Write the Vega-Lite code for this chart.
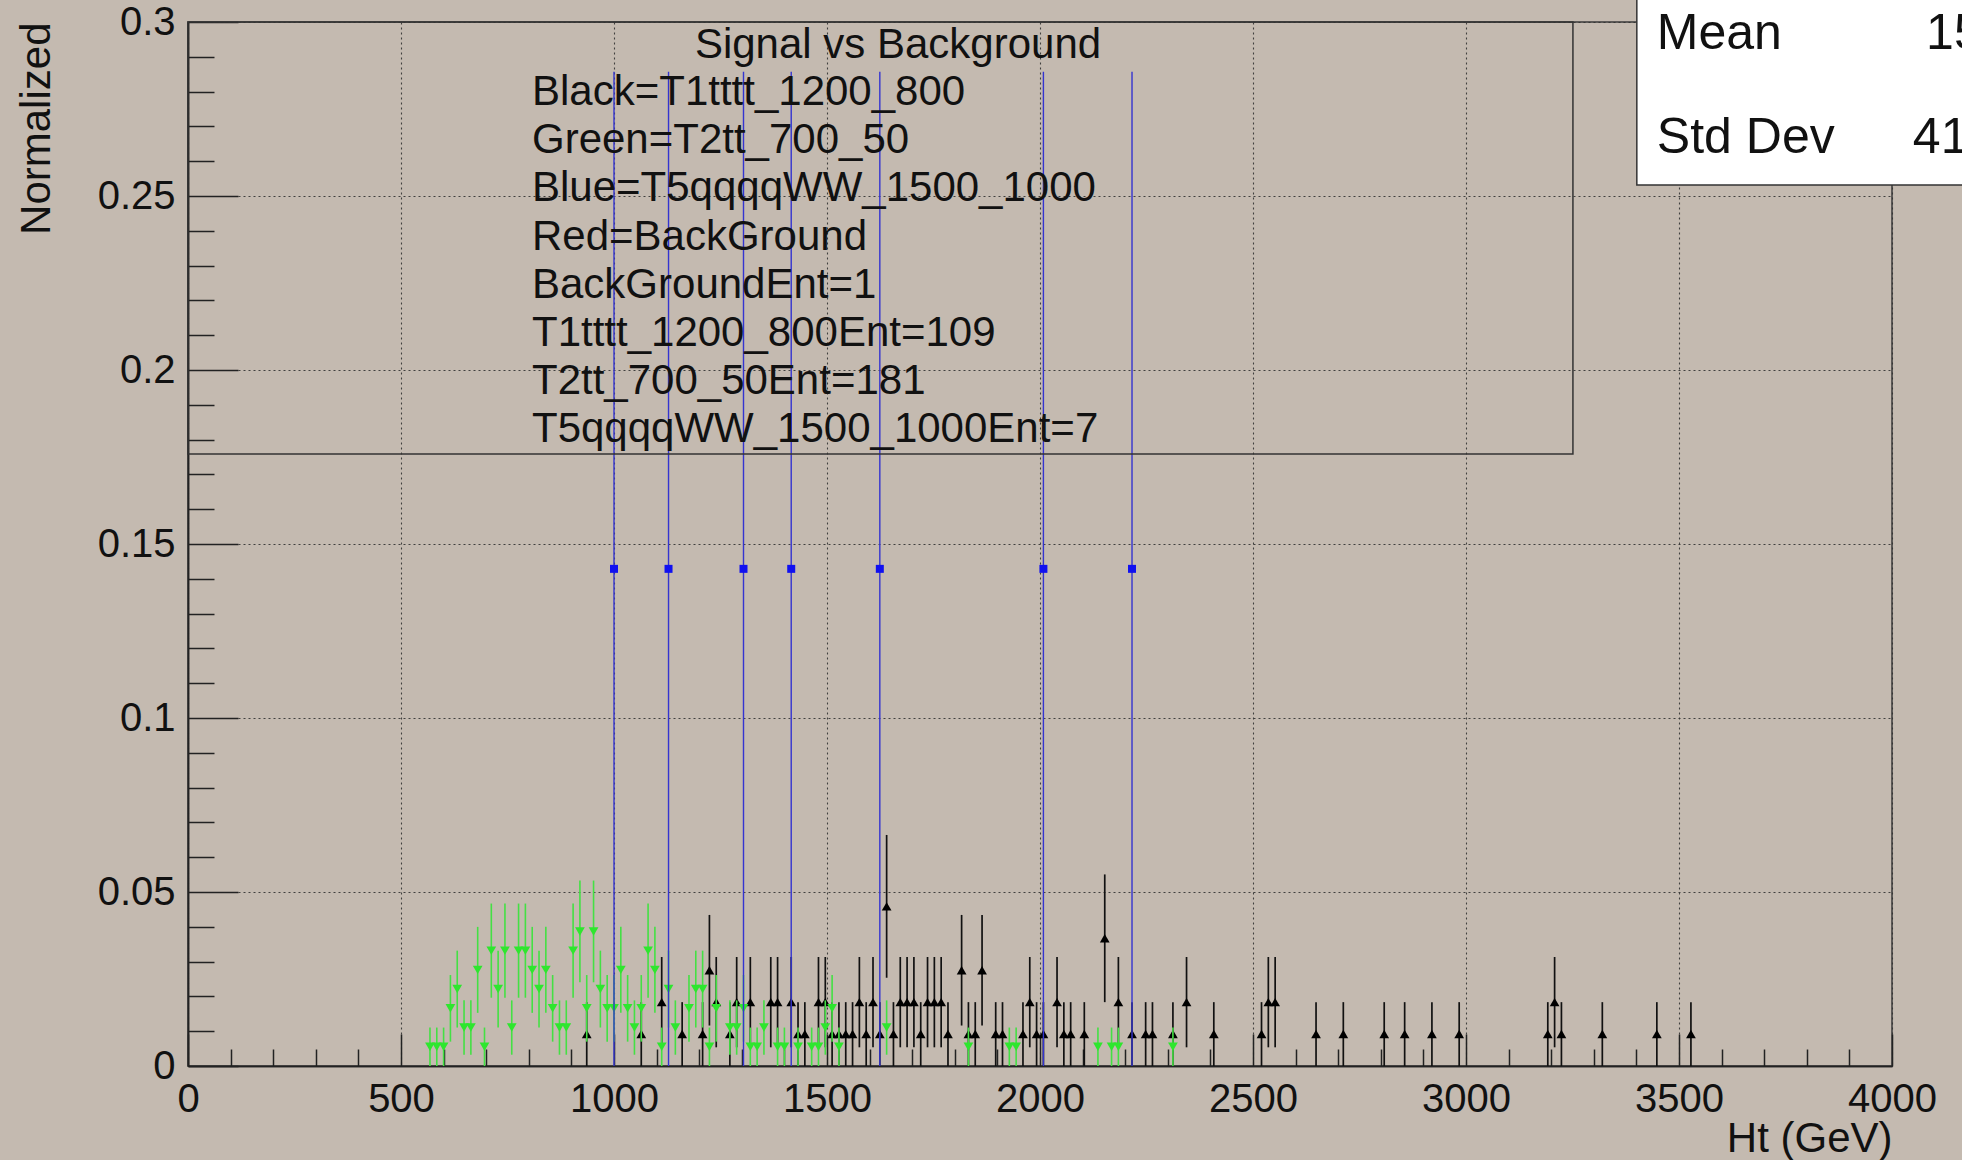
{
  "$schema": "https://vega.github.io/schema/vega-lite/v6.json",
  "width": 1704,
  "height": 1044,
  "autosize": {"type": "none"},
  "padding": {"left": 188, "top": 22, "right": 70, "bottom": 94},
  "background": "#c4bab0",
  "config": {
    "view": {"stroke": "#3a3a3a", "strokeWidth": 1.5},
    "font": "Liberation Sans",
    "text": {"font": "Liberation Sans", "color": "#111111"}
  },
  "resolve": {"axis": {"x": "independent", "y": "independent"}},
  "datasets": {
    "black": [
      {"ht":936,"y":0.00917,"lo":0,"hi":0.01835},
      {"ht":1064,"y":0.00917,"lo":0,"hi":0.01835},
      {"ht":1112,"y":0.01835,"lo":0.00537,"hi":0.03132},
      {"ht":1160,"y":0.00917,"lo":0,"hi":0.01835},
      {"ht":1208,"y":0.00917,"lo":0,"hi":0.01835},
      {"ht":1224,"y":0.02752,"lo":0.01163,"hi":0.04341},
      {"ht":1240,"y":0.01835,"lo":0.00537,"hi":0.03132},
      {"ht":1272,"y":0.00917,"lo":0,"hi":0.01835},
      {"ht":1288,"y":0.01835,"lo":0.00537,"hi":0.03132},
      {"ht":1320,"y":0.01835,"lo":0.00537,"hi":0.03132},
      {"ht":1368,"y":0.01835,"lo":0.00537,"hi":0.03132},
      {"ht":1384,"y":0.01835,"lo":0.00537,"hi":0.03132},
      {"ht":1416,"y":0.01835,"lo":0.00537,"hi":0.03132},
      {"ht":1432,"y":0.00917,"lo":0,"hi":0.01835},
      {"ht":1448,"y":0.00917,"lo":0,"hi":0.01835},
      {"ht":1480,"y":0.01835,"lo":0.00537,"hi":0.03132},
      {"ht":1496,"y":0.01835,"lo":0.00537,"hi":0.03132},
      {"ht":1512,"y":0.00917,"lo":0,"hi":0.01835},
      {"ht":1528,"y":0.00917,"lo":0,"hi":0.01835},
      {"ht":1544,"y":0.00917,"lo":0,"hi":0.01835},
      {"ht":1560,"y":0.00917,"lo":0,"hi":0.01835},
      {"ht":1576,"y":0.01835,"lo":0.00537,"hi":0.03132},
      {"ht":1592,"y":0.00917,"lo":0,"hi":0.01835},
      {"ht":1608,"y":0.01835,"lo":0.00537,"hi":0.03132},
      {"ht":1624,"y":0.00917,"lo":0,"hi":0.01835},
      {"ht":1640,"y":0.04587,"lo":0.02536,"hi":0.06639},
      {"ht":1656,"y":0.00917,"lo":0,"hi":0.01835},
      {"ht":1672,"y":0.01835,"lo":0.00537,"hi":0.03132},
      {"ht":1688,"y":0.01835,"lo":0.00537,"hi":0.03132},
      {"ht":1704,"y":0.01835,"lo":0.00537,"hi":0.03132},
      {"ht":1720,"y":0.00917,"lo":0,"hi":0.01835},
      {"ht":1736,"y":0.01835,"lo":0.00537,"hi":0.03132},
      {"ht":1752,"y":0.01835,"lo":0.00537,"hi":0.03132},
      {"ht":1768,"y":0.01835,"lo":0.00537,"hi":0.03132},
      {"ht":1784,"y":0.00917,"lo":0,"hi":0.01835},
      {"ht":1816,"y":0.02752,"lo":0.01163,"hi":0.04341},
      {"ht":1832,"y":0.00917,"lo":0,"hi":0.01835},
      {"ht":1848,"y":0.00917,"lo":0,"hi":0.01835},
      {"ht":1864,"y":0.02752,"lo":0.01163,"hi":0.04341},
      {"ht":1896,"y":0.00917,"lo":0,"hi":0.01835},
      {"ht":1912,"y":0.00917,"lo":0,"hi":0.01835},
      {"ht":1960,"y":0.00917,"lo":0,"hi":0.01835},
      {"ht":1976,"y":0.01835,"lo":0.00537,"hi":0.03132},
      {"ht":1992,"y":0.00917,"lo":0,"hi":0.01835},
      {"ht":2008,"y":0.00917,"lo":0,"hi":0.01835},
      {"ht":2040,"y":0.01835,"lo":0.00537,"hi":0.03132},
      {"ht":2056,"y":0.00917,"lo":0,"hi":0.01835},
      {"ht":2072,"y":0.00917,"lo":0,"hi":0.01835},
      {"ht":2104,"y":0.00917,"lo":0,"hi":0.01835},
      {"ht":2152,"y":0.0367,"lo":0.01835,"hi":0.05505},
      {"ht":2184,"y":0.01835,"lo":0.00537,"hi":0.03132},
      {"ht":2216,"y":0.00917,"lo":0,"hi":0.01835},
      {"ht":2248,"y":0.00917,"lo":0,"hi":0.01835},
      {"ht":2264,"y":0.00917,"lo":0,"hi":0.01835},
      {"ht":2312,"y":0.00917,"lo":0,"hi":0.01835},
      {"ht":2344,"y":0.01835,"lo":0.00537,"hi":0.03132},
      {"ht":2408,"y":0.00917,"lo":0,"hi":0.01835},
      {"ht":2520,"y":0.00917,"lo":0,"hi":0.01835},
      {"ht":2536,"y":0.01835,"lo":0.00537,"hi":0.03132},
      {"ht":2552,"y":0.01835,"lo":0.00537,"hi":0.03132},
      {"ht":2648,"y":0.00917,"lo":0,"hi":0.01835},
      {"ht":2712,"y":0.00917,"lo":0,"hi":0.01835},
      {"ht":2808,"y":0.00917,"lo":0,"hi":0.01835},
      {"ht":2856,"y":0.00917,"lo":0,"hi":0.01835},
      {"ht":2920,"y":0.00917,"lo":0,"hi":0.01835},
      {"ht":2984,"y":0.00917,"lo":0,"hi":0.01835},
      {"ht":3192,"y":0.00917,"lo":0,"hi":0.01835},
      {"ht":3208,"y":0.01835,"lo":0.00537,"hi":0.03132},
      {"ht":3224,"y":0.00917,"lo":0,"hi":0.01835},
      {"ht":3320,"y":0.00917,"lo":0,"hi":0.01835},
      {"ht":3448,"y":0.00917,"lo":0,"hi":0.01835},
      {"ht":3528,"y":0.00917,"lo":0,"hi":0.01835}
    ],
    "green": [
      {"ht":568,"y":0.00552,"lo":0,"hi":0.01105},
      {"ht":584,"y":0.00552,"lo":0,"hi":0.01105},
      {"ht":600,"y":0.00552,"lo":0,"hi":0.01105},
      {"ht":616,"y":0.01657,"lo":0.007,"hi":0.02614},
      {"ht":632,"y":0.0221,"lo":0.01105,"hi":0.03315},
      {"ht":648,"y":0.01105,"lo":0.00324,"hi":0.01886},
      {"ht":664,"y":0.01105,"lo":0.00324,"hi":0.01886},
      {"ht":680,"y":0.02762,"lo":0.01527,"hi":0.03998},
      {"ht":696,"y":0.00552,"lo":0,"hi":0.01105},
      {"ht":712,"y":0.03315,"lo":0.01962,"hi":0.04668},
      {"ht":728,"y":0.0221,"lo":0.01105,"hi":0.03315},
      {"ht":744,"y":0.03315,"lo":0.01962,"hi":0.04668},
      {"ht":760,"y":0.01105,"lo":0.00324,"hi":0.01886},
      {"ht":776,"y":0.03315,"lo":0.01962,"hi":0.04668},
      {"ht":792,"y":0.03315,"lo":0.01962,"hi":0.04668},
      {"ht":808,"y":0.02762,"lo":0.01527,"hi":0.03998},
      {"ht":824,"y":0.0221,"lo":0.01105,"hi":0.03315},
      {"ht":840,"y":0.02762,"lo":0.01527,"hi":0.03998},
      {"ht":856,"y":0.01657,"lo":0.007,"hi":0.02614},
      {"ht":872,"y":0.01105,"lo":0.00324,"hi":0.01886},
      {"ht":888,"y":0.01105,"lo":0.00324,"hi":0.01886},
      {"ht":904,"y":0.03315,"lo":0.01962,"hi":0.04668},
      {"ht":920,"y":0.03867,"lo":0.02406,"hi":0.05329},
      {"ht":936,"y":0.01657,"lo":0.007,"hi":0.02614},
      {"ht":952,"y":0.03867,"lo":0.02406,"hi":0.05329},
      {"ht":968,"y":0.0221,"lo":0.01105,"hi":0.03315},
      {"ht":984,"y":0.01657,"lo":0.007,"hi":0.02614},
      {"ht":1000,"y":0.01657,"lo":0.007,"hi":0.02614},
      {"ht":1016,"y":0.02762,"lo":0.01527,"hi":0.03998},
      {"ht":1032,"y":0.01657,"lo":0.007,"hi":0.02614},
      {"ht":1048,"y":0.01105,"lo":0.00324,"hi":0.01886},
      {"ht":1064,"y":0.01657,"lo":0.007,"hi":0.02614},
      {"ht":1080,"y":0.03315,"lo":0.01962,"hi":0.04668},
      {"ht":1096,"y":0.02762,"lo":0.01527,"hi":0.03998},
      {"ht":1112,"y":0.00552,"lo":0,"hi":0.01105},
      {"ht":1128,"y":0.0221,"lo":0.01105,"hi":0.03315},
      {"ht":1144,"y":0.01105,"lo":0.00324,"hi":0.01886},
      {"ht":1176,"y":0.01657,"lo":0.007,"hi":0.02614},
      {"ht":1192,"y":0.0221,"lo":0.01105,"hi":0.03315},
      {"ht":1208,"y":0.0221,"lo":0.01105,"hi":0.03315},
      {"ht":1224,"y":0.00552,"lo":0,"hi":0.01105},
      {"ht":1240,"y":0.01657,"lo":0.007,"hi":0.02614},
      {"ht":1272,"y":0.01105,"lo":0.00324,"hi":0.01886},
      {"ht":1288,"y":0.01105,"lo":0.00324,"hi":0.01886},
      {"ht":1304,"y":0.01657,"lo":0.007,"hi":0.02614},
      {"ht":1320,"y":0.00552,"lo":0,"hi":0.01105},
      {"ht":1336,"y":0.00552,"lo":0,"hi":0.01105},
      {"ht":1352,"y":0.01105,"lo":0.00324,"hi":0.01886},
      {"ht":1384,"y":0.00552,"lo":0,"hi":0.01105},
      {"ht":1400,"y":0.00552,"lo":0,"hi":0.01105},
      {"ht":1432,"y":0.00552,"lo":0,"hi":0.01105},
      {"ht":1464,"y":0.00552,"lo":0,"hi":0.01105},
      {"ht":1480,"y":0.00552,"lo":0,"hi":0.01105},
      {"ht":1496,"y":0.01105,"lo":0.00324,"hi":0.01886},
      {"ht":1512,"y":0.01657,"lo":0.007,"hi":0.02614},
      {"ht":1528,"y":0.00552,"lo":0,"hi":0.01105},
      {"ht":1640,"y":0.01105,"lo":0.00324,"hi":0.01886},
      {"ht":1832,"y":0.00552,"lo":0,"hi":0.01105},
      {"ht":1928,"y":0.00552,"lo":0,"hi":0.01105},
      {"ht":1944,"y":0.00552,"lo":0,"hi":0.01105},
      {"ht":2136,"y":0.00552,"lo":0,"hi":0.01105},
      {"ht":2168,"y":0.00552,"lo":0,"hi":0.01105},
      {"ht":2184,"y":0.00552,"lo":0,"hi":0.01105},
      {"ht":2312,"y":0.00552,"lo":0,"hi":0.01105}
    ],
    "blue": [
      {"ht":1000,"y":0.14286,"lo":0,"hi":0.28571},
      {"ht":1128,"y":0.14286,"lo":0,"hi":0.28571},
      {"ht":1304,"y":0.14286,"lo":0,"hi":0.28571},
      {"ht":1416,"y":0.14286,"lo":0,"hi":0.28571},
      {"ht":1624,"y":0.14286,"lo":0,"hi":0.28571},
      {"ht":2008,"y":0.14286,"lo":0,"hi":0.28571},
      {"ht":2216,"y":0.14286,"lo":0,"hi":0.28571}
    ]
  },
  "layer": [
    {
      "data": {"name": "black"},
      "mark": {"type": "rule", "color": "#111111", "strokeWidth": 1.7},
      "encoding": {
        "x": {
          "field": "ht", "type": "quantitative",
          "scale": {"domain": [0, 4000], "nice": false, "zero": false},
          "axis": {
            "orient": "bottom",
            "values": [100,200,300,400,600,700,800,900,1100,1200,1300,1400,1600,1700,1800,1900,2100,2200,2300,2400,2600,2700,2800,2900,3100,3200,3300,3400,3600,3700,3800,3900],
            "title": null, "labels": false, "grid": false,
            "tickSize": -17, "tickColor": "#222222", "tickWidth": 1.5,
            "domainColor": "#222222", "domainWidth": 1.5
          }
        },
        "y": {
          "field": "lo", "type": "quantitative",
          "scale": {"domain": [0, 0.3], "nice": false, "zero": false},
          "axis": {
            "orient": "left",
            "values": [0.01,0.02,0.03,0.04,0.06,0.07,0.08,0.09,0.11,0.12,0.13,0.14,0.16,0.17,0.18,0.19,0.21,0.22,0.23,0.24,0.26,0.27,0.28,0.29],
            "title": null, "labels": false, "grid": false,
            "tickSize": -26, "tickColor": "#222222", "tickWidth": 1.5,
            "domainColor": "#222222", "domainWidth": 1.5
          }
        },
        "y2": {"field": "hi"}
      }
    },
    {
      "data": {"name": "black"},
      "mark": {"type": "point", "shape": "triangle-up", "filled": true, "size": 95, "color": "#000000", "opacity": 1},
      "encoding": {
        "x": {
          "field": "ht", "type": "quantitative",
          "scale": {"domain": [0, 4000], "nice": false, "zero": false},
          "axis": {
            "orient": "bottom",
            "values": [0,500,1000,1500,2000,2500,3000,3500,4000],
            "format": "d",
            "title": "Ht (GeV)",
            "titleFont": "Liberation Sans", "titleFontSize": 42, "titleFontWeight": "normal", "titleColor": "#111111",
            "titleAnchor": "end", "titleAlign": "right", "titleBaseline": "alphabetic", "titleX": 1704, "titleY": 85,
            "labelFont": "Liberation Sans", "labelFontSize": 40, "labelColor": "#111111", "labelPadding": 45,
            "labelBaseline": "top", "labelFlush": false, "labelOverlap": false, "labelBound": false,
            "tickSize": -32, "tickColor": "#222222", "tickWidth": 1.5,
            "domainColor": "#222222", "domainWidth": 1.5,
            "grid": true, "gridColor": "#333333", "gridWidth": 1.1, "gridDash": [2, 3], "gridOpacity": 0.9
          }
        },
        "y": {
          "field": "y", "type": "quantitative",
          "scale": {"domain": [0, 0.3], "nice": false, "zero": false},
          "axis": {
            "orient": "left",
            "values": [0,0.05,0.1,0.15,0.2,0.25,0.3],
            "format": "~g",
            "title": "Normalized",
            "titleFont": "Liberation Sans", "titleFontSize": 42, "titleFontWeight": "normal", "titleColor": "#111111",
            "titleAngle": -90, "titleAnchor": "end", "titleAlign": "right", "titleBaseline": "alphabetic", "titleX": -139, "titleY": 0,
            "labelFont": "Liberation Sans", "labelFontSize": 40, "labelColor": "#111111", "labelPadding": 63,
            "labelBaseline": "middle", "labelAlign": "right", "labelFlush": false, "labelOverlap": false, "labelBound": false,
            "tickSize": -50, "tickColor": "#222222", "tickWidth": 1.5,
            "domainColor": "#222222", "domainWidth": 1.5,
            "grid": true, "gridColor": "#333333", "gridWidth": 1.1, "gridDash": [2, 3], "gridOpacity": 0.9
          }
        }
      }
    },
    {
      "data": {"name": "green"},
      "mark": {"type": "rule", "color": "#44e044", "strokeWidth": 1.6},
      "encoding": {
        "x": {"field": "ht", "type": "quantitative", "axis": null},
        "y": {"field": "lo", "type": "quantitative", "axis": null},
        "y2": {"field": "hi"}
      }
    },
    {
      "data": {"name": "green"},
      "mark": {"type": "point", "shape": "triangle-down", "filled": true, "size": 95, "color": "#2ee62e", "opacity": 1},
      "encoding": {
        "x": {"field": "ht", "type": "quantitative", "axis": null},
        "y": {"field": "y", "type": "quantitative", "axis": null}
      }
    },
    {
      "data": {"name": "blue"},
      "mark": {"type": "rule", "color": "#3434d0", "strokeWidth": 1.4},
      "encoding": {
        "x": {"field": "ht", "type": "quantitative", "axis": null},
        "y": {"field": "lo", "type": "quantitative", "axis": null},
        "y2": {"field": "hi"}
      }
    },
    {
      "data": {"name": "blue"},
      "mark": {"type": "point", "shape": "square", "filled": true, "size": 64, "color": "#1010f0", "opacity": 1},
      "encoding": {
        "x": {"field": "ht", "type": "quantitative", "axis": null},
        "y": {"field": "y", "type": "quantitative", "axis": null}
      }
    },
    {
      "data": {"values": [{}]},
      "mark": {"type": "rect", "fill": "#c4bab0", "fillOpacity": 0, "stroke": "#333333", "strokeWidth": 1.5, "clip": false},
      "encoding": {
        "x": {"datum": 0, "type": "quantitative", "axis": null},
        "x2": {"datum": 3251},
        "y": {"datum": 0.17586, "type": "quantitative", "axis": null},
        "y2": {"datum": 0.3}
      }
    },
    {
      "data": {"values": [{}]},
      "mark": {"type": "text", "text": "Signal vs Background", "align": "center", "baseline": "alphabetic", "fontSize": 42, "color": "#111111"},
      "encoding": {
        "x": {"datum": 1666.7, "type": "quantitative", "axis": null},
        "y": {"datum": 0.28966, "type": "quantitative", "axis": null}
      }
    },
    {
      "data": {"values": [{}]},
      "mark": {
        "type": "text",
        "text": ["Black=T1tttt_1200_800", "Green=T2tt_700_50", "Blue=T5qqqqWW_1500_1000", "Red=BackGround", "BackGroundEnt=1", "T1tttt_1200_800Ent=109", "T2tt_700_50Ent=181", "T5qqqqWW_1500_1000Ent=7"],
        "align": "left", "baseline": "alphabetic", "fontSize": 42, "lineHeight": 48.2, "color": "#111111"
      },
      "encoding": {
        "x": {"datum": 807.5, "type": "quantitative", "axis": null},
        "y": {"datum": 0.27615, "type": "quantitative", "axis": null}
      }
    },
    {
      "data": {"values": [{}]},
      "mark": {"type": "rect", "fill": "#ffffff", "stroke": "#333333", "strokeWidth": 1.5, "clip": false},
      "encoding": {
        "x": {"datum": 3401, "type": "quantitative", "axis": null},
        "x2": {"datum": 4300},
        "y": {"datum": 0.25316, "type": "quantitative", "axis": null},
        "y2": {"datum": 0.36}
      }
    },
    {
      "data": {"values": [{}]},
      "mark": {"type": "text", "text": ["Mean", "Std Dev"], "align": "left", "baseline": "alphabetic", "fontSize": 50, "lineHeight": 104, "color": "#111111", "clip": false},
      "encoding": {
        "x": {"datum": 3448, "type": "quantitative", "axis": null},
        "y": {"datum": 0.29225, "type": "quantitative", "axis": null}
      }
    },
    {
      "data": {"values": [{}]},
      "mark": {"type": "text", "text": "1537", "align": "left", "baseline": "alphabetic", "fontSize": 50, "color": "#111111", "clip": false},
      "encoding": {
        "x": {"datum": 4080, "type": "quantitative", "axis": null},
        "y": {"datum": 0.29225, "type": "quantitative", "axis": null}
      }
    },
    {
      "data": {"values": [{}]},
      "mark": {"type": "text", "text": "413.9", "align": "left", "baseline": "alphabetic", "fontSize": 50, "color": "#111111", "clip": false},
      "encoding": {
        "x": {"datum": 4049, "type": "quantitative", "axis": null},
        "y": {"datum": 0.26236, "type": "quantitative", "axis": null}
      }
    }
  ]
}
